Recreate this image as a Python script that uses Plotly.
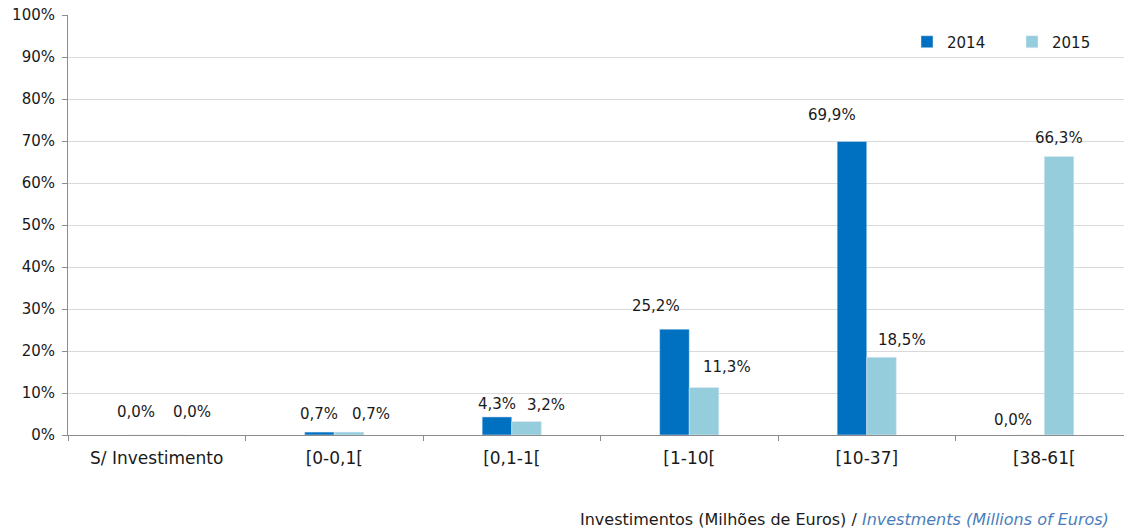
import plotly.graph_objects as go

categories = ["S/ Investimento", "[0-0,1[", "[0,1-1[", "[1-10[", "[10-37]", "[38-61["]
values_2014 = [0.0, 0.7, 4.3, 25.2, 69.9, 0.0]
values_2015 = [0.0, 0.7, 3.2, 11.3, 18.5, 66.3]
y_ticks = [0, 10, 20, 30, 40, 50, 60, 70, 80, 90, 100]

FONT = "DejaVu Sans"
TXT = "#1a1a1a"
C2014 = "#0070c0"
C2015 = "#95cddd"

# label nudges (px) copied from how the labels sit in the original chart
shift_2014 = {"x": [-6, 0, 0, -18, -20, -16], "y": [23, 18, 13, 23, 26, 15]}
shift_2015 = {"x": [20, 22, 19, 23, 20, 0], "y": [23, 18, 17, 21, 17, 19]}

W, H = 1126, 528
ML, MR, MT, MB = 68, 2, 15, 93
pw, ph = W - ML - MR, H - MT - MB


def pct(v):
    return f"{v:.1f}".replace(".", ",") + "%"


fig = go.Figure()
fig.add_trace(go.Bar(x=categories, y=values_2014, name="2014", marker_color=C2014))
fig.add_trace(go.Bar(x=categories, y=values_2015, name="2015", marker_color=C2015))

# bars take 1/3 of each slot, so each bar centre sits 1/12 off the category centre
annotations = []
for vals, off, sh in ((values_2014, -1 / 12, shift_2014), (values_2015, 1 / 12, shift_2015)):
    for i, v in enumerate(vals):
        annotations.append(dict(
            x=i + off, y=v, xref="x", yref="y", text=pct(v), showarrow=False,
            xanchor="center", yanchor="middle",
            xshift=sh["x"][i], yshift=sh["y"][i],
            font=dict(family=FONT, size=15, color=TXT),
        ))

# axis title, right aligned under the plot
annotations.append(dict(
    x=(1111 - ML) / pw, y=(H - MB - 519) / ph, xref="paper", yref="paper",
    showarrow=False, xanchor="right", yanchor="middle",
    text="Investimentos (Milhões de Euros) / <i><span style='color:#4a7ebb'>Investments (Millions of Euros)</span></i>",
    font=dict(family=FONT, size=16, color=TXT),
))

fig.update_layout(
    width=W, height=H,
    margin=dict(l=ML, r=MR, t=MT, b=MB, autoexpand=False),
    barmode="group", bargap=2 / 3, bargroupgap=0,
    plot_bgcolor="white", paper_bgcolor="white",
    font=dict(family=FONT, size=15, color=TXT),
    legend=dict(
        orientation="h", x=(907 - ML) / pw, y=(H - MB - 42) / ph,
        xanchor="left", yanchor="middle",
        font=dict(family=FONT, size=15, color=TXT), itemwidth=30,
        entrywidth=60, traceorder="normal", bgcolor="rgba(0,0,0,0)",
    ),
    annotations=annotations,
    showlegend=True,
)
fig.update_xaxes(
    type="category", range=[-0.5, -0.5 + pw / 177.5], automargin=False,
    showline=True, linecolor="#8c8c8c", linewidth=1,
    ticks="outside", tickson="boundaries", ticklen=5, tickcolor="#8c8c8c",
    showgrid=False, tickfont=dict(family=FONT, size=17, color=TXT),
    ticklabelstandoff=8,
)
fig.update_yaxes(
    range=[0, 100], tickvals=y_ticks, ticktext=[f"{t}%" for t in y_ticks],
    automargin=False,
    showline=True, linecolor="#8c8c8c", linewidth=1,
    ticks="outside", ticklen=5, tickcolor="#8c8c8c",
    showgrid=True, gridcolor="#d9d9d9", gridwidth=1, zeroline=False,
    tickfont=dict(family=FONT, size=15, color=TXT), ticklabelstandoff=4,
)

fig.write_html("out.html", config={"displayModeBar": False},
               post_script="document.body.style.margin='0';")
